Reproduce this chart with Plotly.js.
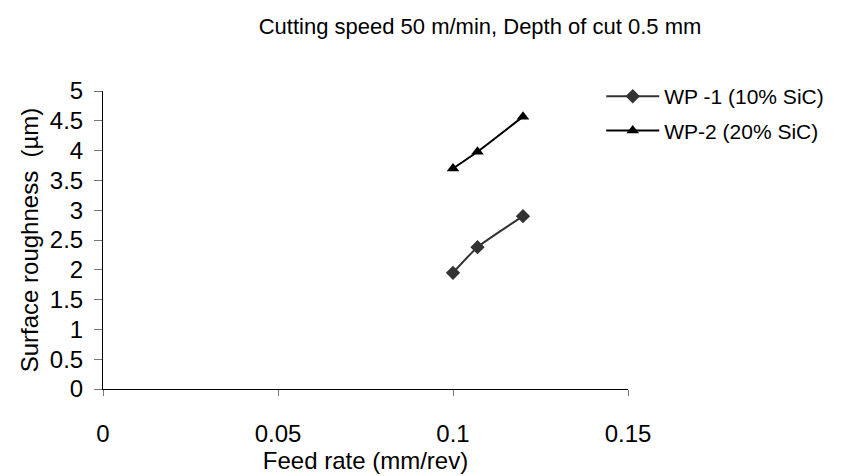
<!DOCTYPE html>
<html><head><meta charset="utf-8">
<script src="https://cdn.plot.ly/plotly-3.0.1.min.js"></script>
<style>html,body{margin:0;padding:0;background:#fff}#chart{width:841px;height:476px}</style>
</head><body><div id="chart"></div>
<script>
const feedRate = [0.1, 0.107, 0.12];
const wp1Roughness = [1.95, 2.38, 2.90];
const wp2Roughness = [3.70, 3.98, 4.57];
const seriesNames = ["WP -1 (10% SiC)", "WP-2 (20% SiC)"];
const xTicks = [0, 0.05, 0.1, 0.15];
const xTickText = ["0", "0.05", "0.1", "0.15"];
const yTicks = [0, 0.5, 1, 1.5, 2, 2.5, 3, 3.5, 4, 4.5, 5];
const yTickText = ["0", "0.5", "1", "1.5", "2", "2.5", "3", "3.5", "4", "4.5", "5"];

const font = "Liberation Sans, Arial, Helvetica, sans-serif";
const data = [
  {x: feedRate, y: wp1Roughness, name: seriesNames[0], mode: "lines+markers", legendgroup: "a",
   line: {color: "#333333", width: 2, shape: "spline", smoothing: 0.5},
   marker: {symbol: "diamond", size: 11, color: "#333333"}},
  {x: feedRate, y: wp2Roughness, name: seriesNames[1], mode: "lines+markers", legendgroup: "b",
   line: {color: "#000000", width: 2, shape: "spline", smoothing: 0.5},
   marker: {symbol: "triangle-up", size: 11, color: "#000000"}}
];
const layout = {
  width: 841, height: 476,
  margin: {l: 103, r: 207, t: 91, b: 87, pad: 0},
  paper_bgcolor: "#fff", plot_bgcolor: "#fff",
  font: {family: font, color: "#000", size: 22},
  title: {text: "Cutting speed 50 m/min, Depth of cut 0.5 mm", font: {size: 22, family: font},
          x: 480/841, xanchor: "center", y: 1 - 26/476, yanchor: "middle"},
  xaxis: {range: [0, 0.15], tickvals: xTicks, ticktext: xTickText, showgrid: false, zeroline: false,
          showline: true, linecolor: "#000", linewidth: 1, ticks: "outside", ticklen: 6, tickcolor: "#777",
          ticklabelstandoff: 17, tickfont: {size: 24},
          title: {text: "Feed rate (mm/rev)", font: {size: 24}, standoff: 4}},
  yaxis: {range: [0, 5], tickvals: yTicks, ticktext: yTickText, showgrid: false, zeroline: false,
          showline: true, linecolor: "#000", linewidth: 1, ticks: "outside", ticklen: 8, tickcolor: "#777",
          ticklabelstandoff: 6, tickfont: {size: 24},
          title: {text: "Surface roughness  (µm)", font: {size: 24}, standoff: 4}},
  legend: {x: 0.949, xanchor: "left", y: 1.05, yanchor: "top", font: {size: 21},
           itemwidth: 53, bgcolor: "rgba(0,0,0,0)", tracegroupgap: 4},
  showlegend: true
};
Plotly.newPlot("chart", data, layout, {displayModeBar: false, staticPlot: true});
</script></body></html>
